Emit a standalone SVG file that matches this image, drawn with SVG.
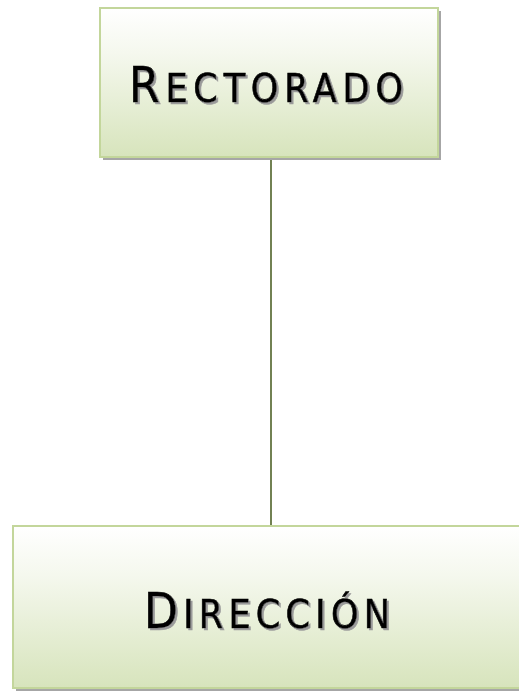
<svg xmlns="http://www.w3.org/2000/svg" width="519" height="692" viewBox="0 0 519 692">
<style>
.box{fill:url(#g);stroke:#c3d69b;stroke-width:2}
.sh{fill:#a6a6a6}
.t{font-family:"Liberation Sans Narrow","DejaVu Sans Condensed","Liberation Sans",sans-serif;fill:#000;stroke:#000;stroke-width:0.6;filter:url(#ds)}
.big{font-size:49px}
.sm{font-size:39px}
.conn{stroke:#4f6228;stroke-width:1.6;fill:none}
</style>
<defs>
<linearGradient id="g" x1="0" y1="0" x2="0" y2="1">
<stop offset="0" stop-color="#ffffff"/>
<stop offset="0.3" stop-color="#f5f8ee"/>
<stop offset="1" stop-color="#d7e4bc"/>
</linearGradient>
<filter id="ds" x="-10%" y="-20%" width="120%" height="140%">
<feDropShadow dx="2" dy="2" stdDeviation="0.3" flood-color="#9a9a9a" flood-opacity="1"/>
</filter>
</defs>
<rect width="519" height="692" fill="#fff"/>
<g id="connectors">
<line class="conn" x1="271" y1="158" x2="271" y2="526"/>
</g>
<g id="rectorado">
<rect class="sh" x="103" y="11" width="338" height="149"/>
<rect class="box" x="100" y="8" width="338" height="149"/>
<text class="t" x="129" y="102" textLength="274" lengthAdjust="spacing"><tspan class="big">R</tspan><tspan class="sm">ECTORADO</tspan></text>
</g>
<g id="direccion">
<rect class="sh" x="16" y="529" width="510" height="162"/>
<rect class="box" x="13" y="526" width="510" height="162"/>
<text class="t" x="144" y="628" textLength="246" lengthAdjust="spacing"><tspan class="big">D</tspan><tspan class="sm">IRECCIÓN</tspan></text>
</g>
</svg>
